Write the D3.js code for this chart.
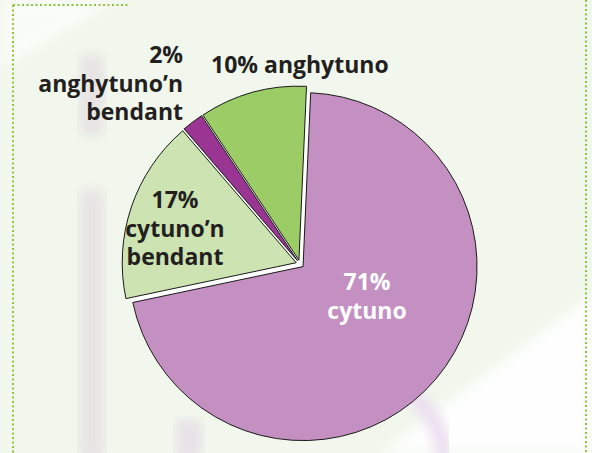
<!DOCTYPE html>
<html>
<head>
<meta charset="utf-8">
<script src="https://cdn.jsdelivr.net/npm/d3@7"></script>
<style>
  html, body { margin: 0; padding: 0; background: #f1f7ec; }
  svg { display: block; }
  text { font-family: "Open Sans", "Noto Sans", sans-serif; font-weight: 700; }
</style>
</head>
<body>
<svg id="chart" width="592" height="453"></svg>
<script>
// Chart data (clockwise from the top)
const categories = ['cytuno', 'cytuno’n bendant', 'anghytuno’n bendant', 'anghytuno'];
const values = [71, 17, 2, 10];
const labelLines = [
  ['71%', 'cytuno'],
  ['17%', 'cytuno’n', 'bendant'],
  ['2%', 'anghytuno’n', 'bendant'],
  ['10% anghytuno']
];

// Styling
const colors = ['#c490c2', '#cde3b1', '#9b3594', '#9ccc66'];
const textColors = ['#ffffff', '#231f20', '#231f20', '#231f20'];
const width = 592, height = 453;
const center = { x: 300, y: 264 };
const radius = 174;
const explode = 4;
const startDeg = 2.5;
const lineHeight = 28.5;

// Label anchors: x, first baseline, text-anchor
const labelLayout = [
  { x: 367, y: 290, anchor: 'middle' },
  { x: 175, y: 208, anchor: 'middle' },
  { x: 183, y: 63, anchor: 'end' },
  { x: 211, y: 73, anchor: 'start' }
];

const svg = d3.select('#chart');

// Faint background decoration
const deco = svg.append('g').attr('class', 'background');
const defs = svg.append('defs');
defs.append('filter').attr('id', 'soft')
  .append('feGaussianBlur').attr('stdDeviation', 6);

deco.append('path')
  .attr('d', 'M0,0 L120,0 L0,70 Z')
  .attr('fill', '#ffffff').attr('opacity', 0.6).attr('filter', 'url(#soft)');
deco.append('path')
  .attr('d', `M${width},295 L${width},${height} L380,${height} Z`)
  .attr('fill', '#ffffff').attr('opacity', 0.9).attr('filter', 'url(#soft)');
deco.append('rect').attr('x', 80).attr('y', 55).attr('width', 24).attr('height', 80)
  .attr('fill', '#e3dbe0').attr('opacity', 0.7).attr('filter', 'url(#soft)');
deco.append('rect').attr('x', 80).attr('y', 190).attr('width', 24).attr('height', 270)
  .attr('fill', '#e3dbe0').attr('opacity', 0.7).attr('filter', 'url(#soft)');
deco.append('rect').attr('x', 176).attr('y', 420).attr('width', 26).attr('height', 40)
  .attr('fill', '#e6dce6').attr('opacity', 0.8).attr('filter', 'url(#soft)');
deco.append('path')
  .attr('d', 'M410,395 Q440,415 445,460')
  .attr('fill', 'none').attr('stroke', '#ebdef0').attr('stroke-width', 16)
  .attr('filter', 'url(#soft)');

// Dotted frame
const frame = svg.append('g').attr('class', 'frame')
  .attr('stroke', '#8cc63f').attr('stroke-width', 2)
  .attr('stroke-dasharray', '2,2.5').attr('fill', 'none');
frame.append('line').attr('x1', 13).attr('y1', 5).attr('x2', 128).attr('y2', 5);
frame.append('line').attr('x1', 13).attr('y1', 5).attr('x2', 13).attr('y2', height);
frame.append('line').attr('x1', 586).attr('y1', 0).attr('x2', 586).attr('y2', height);

// Pie
const pie = d3.pie()
  .sort(null)
  .value(d => d)
  .startAngle(startDeg * Math.PI / 180)
  .endAngle(startDeg * Math.PI / 180 + 2 * Math.PI);

const arcs = pie(values);
const arc = d3.arc().innerRadius(0).outerRadius(radius);

const g = svg.append('g')
  .attr('transform', `translate(${center.x},${center.y})`);

// White gaps between the exploded slices
g.selectAll('.gap')
  .data(arcs)
  .enter()
  .append('line')
  .attr('class', 'gap')
  .attr('x1', 0).attr('y1', 0)
  .attr('x2', d => (radius - 2) * Math.sin(d.startAngle))
  .attr('y2', d => -(radius - 2) * Math.cos(d.startAngle))
  .attr('stroke', '#ffffff')
  .attr('stroke-width', 6);

g.selectAll('.slice')
  .data(arcs)
  .enter()
  .append('path')
  .attr('class', 'slice')
  .attr('transform', d => {
    const a = (d.startAngle + d.endAngle) / 2;
    return `translate(${explode * Math.sin(a)},${-explode * Math.cos(a)})`;
  })
  .attr('d', arc)
  .attr('fill', (d, i) => colors[i])
  .attr('stroke', '#1a1a1a')
  .attr('stroke-width', 1)
  .attr('stroke-linejoin', 'miter');

// Labels
const labels = svg.append('g').attr('class', 'labels');
labelLines.forEach((lines, i) => {
  const pos = labelLayout[i];
  const t = labels.append('text')
    .attr('x', pos.x)
    .attr('y', pos.y)
    .attr('text-anchor', pos.anchor)
    .attr('font-size', 23)
    .attr('fill', textColors[i]);
  lines.forEach((line, j) => {
    t.append('tspan')
      .attr('x', pos.x)
      .attr('y', pos.y + j * lineHeight)
      .text(line);
  });
});
</script>
</body>
</html>
